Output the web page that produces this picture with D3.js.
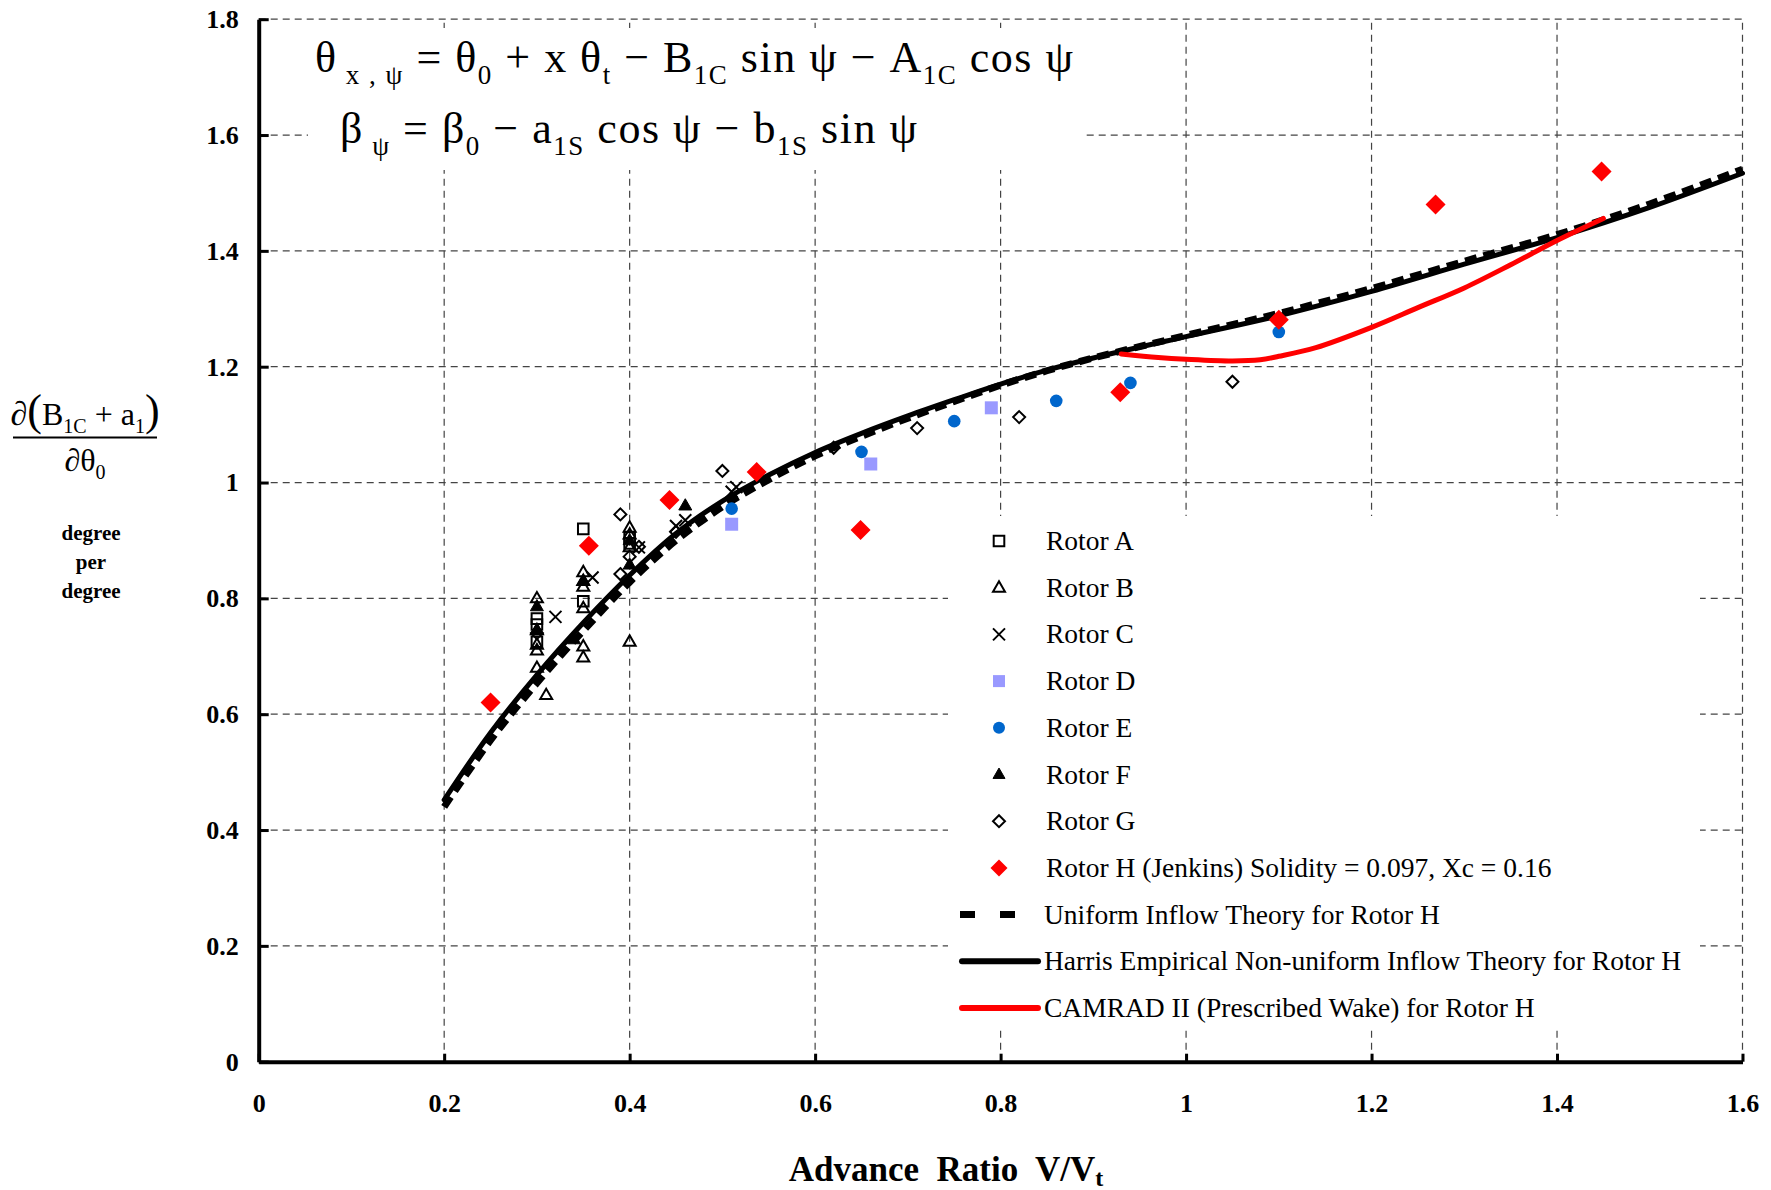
<!DOCTYPE html>
<html><head><meta charset="utf-8">
<script src="https://cdn.jsdelivr.net/npm/d3@7"></script>
<style>body{margin:0;background:#fff} svg{display:block}</style>
</head><body><svg id="c" width="1771" height="1190"></svg>
<script>
// ---------- DATA ----------
const xTicks = [0, 0.2, 0.4, 0.6, 0.8, 1.0, 1.2, 1.4, 1.6];
const xTickLabels = ["0", "0.2", "0.4", "0.6", "0.8", "1", "1.2", "1.4", "1.6"];
const yTicks = [0, 0.2, 0.4, 0.6, 0.8, 1.0, 1.2, 1.4, 1.6, 1.8];
const yTickLabels = ["0", "0.2", "0.4", "0.6", "0.8", "1", "1.2", "1.4", "1.6", "1.8"];

const rotorA = [[0.3,0.765],[0.3,0.755],[0.3,0.725],[0.35,0.92],[0.35,0.795],[0.4,0.905],[0.4,0.895]];
const rotorB = [[0.3,0.80],[0.3,0.745],[0.3,0.72],[0.3,0.71],[0.3,0.68],[0.31,0.633],[0.35,0.845],[0.35,0.83],[0.35,0.82],[0.35,0.783],[0.35,0.717],[0.35,0.698],[0.4,0.922],[0.4,0.91],[0.4,0.888],[0.4,0.725]];
const rotorC = [[0.32,0.768],[0.36,0.836],[0.41,0.888],[0.45,0.925],[0.46,0.935],[0.51,0.984],[0.515,0.992]];
const rotorD = [[0.51,0.928],[0.66,1.032],[0.79,1.129]];
const rotorE = [[0.51,0.955],[0.65,1.053],[0.75,1.106],[0.86,1.141],[0.94,1.172],[1.1,1.26]];
const rotorF = [[0.3,0.786],[0.3,0.745],[0.34,0.729],[0.35,0.83],[0.4,0.858],[0.4,0.90],[0.46,0.96]];
const rotorG = [[0.3,0.74],[0.39,0.945],[0.39,0.842],[0.4,0.872],[0.41,0.889],[0.45,0.915],[0.5,1.02],[0.62,1.06],[0.71,1.094],[0.82,1.113],[1.05,1.174]];
const rotorH = [[0.25,0.62],[0.356,0.891],[0.443,0.97],[0.537,1.018],[0.649,0.918],[0.929,1.156],[1.1,1.281],[1.269,1.48],[1.448,1.537]];

const theoryX   = [0.2,0.25,0.3,0.35,0.4,0.45,0.5,0.55,0.6,0.65,0.7,0.75,0.8,0.85,0.9,1.0,1.1,1.2,1.3,1.4,1.5,1.6];
const harrisY   = [0.452,0.568,0.668,0.758,0.84,0.912,0.968,1.013,1.052,1.085,1.115,1.143,1.170,1.194,1.215,1.252,1.288,1.33,1.377,1.423,1.475,1.534];
const uniformY  = [0.440,0.555,0.654,0.744,0.828,0.900,0.958,1.005,1.046,1.080,1.111,1.140,1.168,1.193,1.215,1.254,1.292,1.335,1.382,1.428,1.481,1.541];
const camradX   = [0.93,0.97,1.0,1.05,1.08,1.1,1.14,1.2,1.25,1.3,1.35,1.4,1.45];
const camradY   = [1.222,1.216,1.213,1.21,1.212,1.218,1.233,1.268,1.302,1.336,1.376,1.418,1.456];

const legendLabels = ["Rotor A","Rotor B","Rotor C","Rotor D","Rotor E","Rotor F","Rotor G",
  "Rotor H (Jenkins) Solidity = 0.097, Xc = 0.16",
  "Uniform Inflow Theory for Rotor H",
  "Harris Empirical Non-uniform Inflow Theory for Rotor H",
  "CAMRAD II (Prescribed Wake) for Rotor H"];

// ---------- SETUP ----------
const svg = d3.select("#c");
const X0 = 258.7, X1 = 1742.5, Y0 = 1061.7, Y1 = 19.2;
const x = d3.scaleLinear().domain([0, 1.6]).range([X0, X1]);
const y = d3.scaleLinear().domain([0, 1.8]).range([Y0, Y1]);
const serif = "'Liberation Serif', 'Times New Roman', serif";

// grid
const grid = svg.append("g").attr("stroke", "#444").attr("stroke-width", 1.2).attr("stroke-dasharray", "7,5");
yTicks.slice(1).forEach(t => grid.append("line").attr("x1", X0).attr("x2", X1).attr("y1", y(t)).attr("y2", y(t)));
xTicks.slice(1).forEach(t => grid.append("line").attr("x1", x(t)).attr("x2", x(t)).attr("y1", Y0).attr("y2", Y1));

// white boxes (formula and legend)
svg.append("rect").attr("x", 308).attr("y", 28).attr("width", 778).attr("height", 142).attr("fill", "#fff");
svg.append("rect").attr("x", 948).attr("y", 516).attr("width", 752).attr("height", 514).attr("fill", "#fff");

// axes
const xAxis = d3.axisBottom(x).tickValues(xTicks).tickFormat((d, i) => xTickLabels[i]).tickSizeInner(-8).tickSizeOuter(0).tickPadding(32);
const yAxis = d3.axisLeft(y).tickValues(yTicks).tickFormat((d, i) => yTickLabels[i]).tickSizeInner(-10).tickSizeOuter(0).tickPadding(20);
const gx = svg.append("g").attr("transform", `translate(0,${Y0})`).call(xAxis);
const gy = svg.append("g").attr("transform", `translate(${X0},0)`).call(yAxis);
[gx, gy].forEach(g => {
  g.select(".domain").attr("stroke", "#000").attr("stroke-width", 4);
  g.selectAll(".tick line").attr("stroke", "#000").attr("stroke-width", 3);
  g.selectAll(".tick text").attr("fill", "#000").style("font-family", serif).style("font-weight", "bold").style("font-size", "26px");
});

// curves
const line = d3.line().x(d => x(d[0])).y(d => y(d[1])).curve(d3.curveCatmullRom.alpha(0.5));
svg.append("path").datum(theoryX.map((v, i) => [v, uniformY[i]])).attr("d", line)
  .attr("fill", "none").attr("stroke", "#000").attr("stroke-width", 7).attr("stroke-dasharray", "12,7");
svg.append("path").datum(theoryX.map((v, i) => [v, harrisY[i]])).attr("d", line)
  .attr("fill", "none").attr("stroke", "#000").attr("stroke-width", 5).attr("stroke-linecap", "round");
svg.append("path").datum(camradX.map((v, i) => [v, camradY[i]])).attr("d", line)
  .attr("fill", "none").attr("stroke", "#ff0000").attr("stroke-width", 5).attr("stroke-linecap", "round");

// symbol types (size = half-extent in px)
const sq = { draw(c, s) { c.rect(-s, -s, 2 * s, 2 * s); } };
const tri = { draw(c, s) { const h = s * 1.732; c.moveTo(0, -h * 0.62); c.lineTo(s, h * 0.38); c.lineTo(-s, h * 0.38); c.closePath(); } };
const times = { draw(c, s) { c.moveTo(-s, -s); c.lineTo(s, s); c.moveTo(s, -s); c.lineTo(-s, s); } };
const circ = { draw(c, s) { c.moveTo(s, 0); c.arc(0, 0, s, 0, 2 * Math.PI); } };
const dia = { draw(c, s) { c.moveTo(0, -s); c.lineTo(s, 0); c.lineTo(0, s); c.lineTo(-s, 0); c.closePath(); } };

const series = [
  { data: rotorA, type: sq, size: 5.3, fill: "none", stroke: "#000", sw: 2 },
  { data: rotorB, type: tri, size: 6, fill: "none", stroke: "#000", sw: 2 },
  { data: rotorC, type: times, size: 6, fill: "none", stroke: "#000", sw: 2 },
  { data: rotorD, type: sq, size: 6.5, fill: "#9999ff", stroke: "none", sw: 0 },
  { data: rotorE, type: circ, size: 6.3, fill: "#0066cc", stroke: "none", sw: 0 },
  { data: rotorF, type: tri, size: 6.5, fill: "#000", stroke: "#000", sw: 1 },
  { data: rotorG, type: dia, size: 6, fill: "none", stroke: "#000", sw: 2 },
  { data: rotorH, type: dia, size: 10, fill: "#ff0000", stroke: "none", sw: 0 }
];
const drawOrder = [1, 0, 5, 2, 6, 3, 4, 7];
drawOrder.forEach(k => {
  const s = series[k];
  svg.append("g").selectAll("path").data(s.data).join("path")
    .attr("transform", d => `translate(${x(d[0])},${y(d[1])})`)
    .attr("d", d3.symbol().type(s.type).size(s.size))
    .attr("fill", s.fill).attr("stroke", s.stroke).attr("stroke-width", s.sw);
});

// legend
const lg = svg.append("g");
const rowY = i => 541 + i * 46.7;
series.forEach((s, i) => {
  const sz = i === 7 ? 8.5 : Math.min(s.size, 6);
  lg.append("path").attr("transform", `translate(999,${rowY(i)})`)
    .attr("d", d3.symbol().type(s.type).size(sz))
    .attr("fill", s.fill).attr("stroke", s.stroke).attr("stroke-width", s.sw);
});
lg.append("line").attr("x1", 960).attr("x2", 1040).attr("y1", rowY(8)).attr("y2", rowY(8)).attr("stroke", "#000").attr("stroke-width", 7).attr("stroke-dasharray", "15,25");
lg.append("line").attr("x1", 962).attr("x2", 1038).attr("y1", rowY(9)).attr("y2", rowY(9)).attr("stroke", "#000").attr("stroke-width", 6).attr("stroke-linecap", "round");
lg.append("line").attr("x1", 962).attr("x2", 1038).attr("y1", rowY(10)).attr("y2", rowY(10)).attr("stroke", "#ff0000").attr("stroke-width", 6).attr("stroke-linecap", "round");
legendLabels.forEach((t, i) => {
  lg.append("text").attr("x", i < 8 ? 1046 : 1044).attr("y", rowY(i) + 9).text(t)
    .style("font-family", serif).style("font-size", "27.5px").attr("fill", "#000");
});

// formula
function rich(g, xx, yy, parts, size, subSize, anchor) {
  const t = g.append("text").attr("x", xx).attr("y", yy).style("font-family", serif).style("font-size", size + "px").attr("fill", "#000");
  if (anchor) t.attr("text-anchor", anchor);
  let shifted = 0;
  parts.forEach(p => {
    const sp = t.append("tspan").text(p.t);
    const want = p.sub ? (p.off || 12) : 0;
    if (want !== shifted) { sp.attr("dy", want - shifted); shifted = want; }
    if (p.sub) sp.style("font-size", subSize + "px");
    if (p.size) sp.style("font-size", p.size + "px");
  });
  return t;
}
rich(svg, 315, 72, [
  { t: "θ" }, { t: " x , ψ", sub: 1 }, { t: " = θ" }, { t: "0", sub: 1 }, { t: " + x θ" }, { t: "t", sub: 1 },
  { t: " − B" }, { t: "1C", sub: 1 }, { t: " sin ψ − A" }, { t: "1C", sub: 1 }, { t: " cos ψ" }
], 44, 27).attr("textLength", 758).attr("lengthAdjust", "spacing");
rich(svg, 340, 143, [
  { t: "β" }, { t: " ψ", sub: 1 }, { t: " = β" }, { t: "0", sub: 1 }, { t: " − a" }, { t: "1S", sub: 1 },
  { t: " cos ψ − b" }, { t: "1S", sub: 1 }, { t: " sin ψ" }
], 44, 27).attr("textLength", 577).attr("lengthAdjust", "spacing");

// y-axis label
rich(svg, 85, 425, [
  { t: "∂", size: 34 }, { t: "(", size: 44 }, { t: "B" }, { t: "1C", sub: 1, off: 8 }, { t: " + a" }, { t: "1", sub: 1, off: 8 }, { t: ")", size: 44 }
], 32, 20, "middle");
svg.append("line").attr("x1", 13).attr("x2", 157).attr("y1", 437.5).attr("y2", 437.5).attr("stroke", "#000").attr("stroke-width", 2);
rich(svg, 85, 471, [{ t: "∂θ" }, { t: "0", sub: 1, off: 8 }], 32, 20, "middle");
[["degree", 540], ["per", 569], ["degree", 598]].forEach(([t, yy]) =>
  svg.append("text").attr("x", 91).attr("y", yy).attr("text-anchor", "middle").text(t)
    .style("font-family", serif).style("font-weight", "bold").style("font-size", "21px"));

// x-axis title
const xt = svg.append("text").attr("x", 946).attr("y", 1181).attr("text-anchor", "middle")
  .style("font-family", serif).style("font-weight", "bold").style("font-size", "35px").attr("xml:space", "preserve");
xt.append("tspan").text("Advance  Ratio  V/V");
xt.append("tspan").text("t").attr("dy", 5).style("font-size", "24px");
</script></body></html>
